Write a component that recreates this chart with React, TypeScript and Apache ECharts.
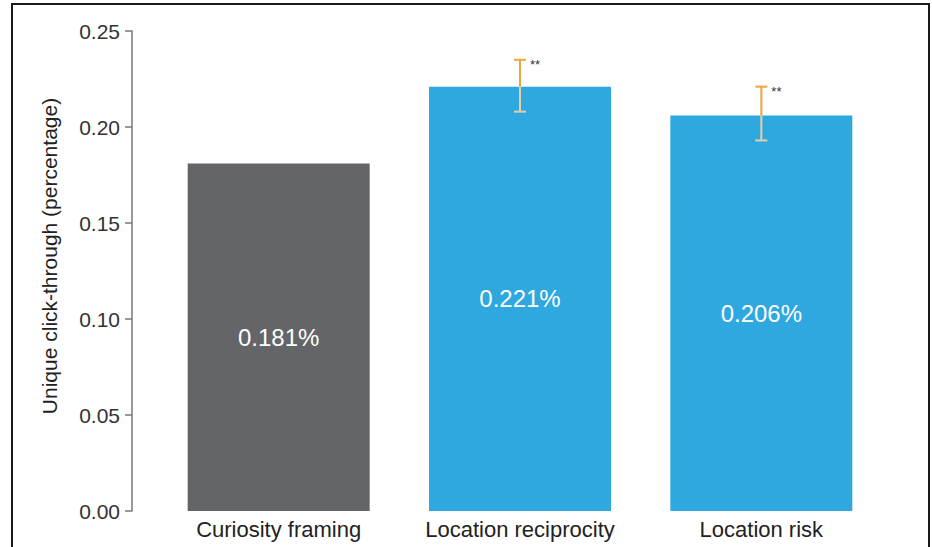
import React, { useEffect, useRef } from "react";
import * as echarts from "echarts";

const categories = ["Curiosity framing", "Location reciprocity", "Location risk"];
const values = [0.181, 0.221, 0.206];
const errLow = [null, 0.208, 0.193];
const errHigh = [null, 0.235, 0.221];
const significance = ["", "**", "**"];
const barColors = ["#646568", "#2EA8DF", "#2EA8DF"];
const yTicks = { min: 0, max: 0.25, interval: 0.05 };

const FONT = "Liberation Sans, Arial, Helvetica, sans-serif";

export default function App() {
  const ref = useRef<HTMLDivElement>(null);

  useEffect(() => {
    if (!ref.current) return;
    const chart = echarts.init(ref.current, null, { renderer: "svg" });

    const errData = categories.map((_, i) => [i, errLow[i], errHigh[i], values[i], significance[i]]);

    chart.setOption({
      animation: false,
      backgroundColor: "#ffffff",
      grid: { left: 158, right: 50, top: 31, bottom: 36, containLabel: false },
      xAxis: {
        type: "category",
        data: categories,
        axisLine: { show: false },
        axisTick: { show: false },
        axisLabel: {
          color: "#222",
          fontSize: 22,
          fontFamily: FONT,
          margin: 7,
          interval: 0,
          hideOverlap: false,
        },
      },
      yAxis: {
        type: "value",
        min: yTicks.min,
        max: yTicks.max,
        interval: yTicks.interval,
        offset: 26,
        name: "Unique click-through (percentage)",
        nameLocation: "middle",
        nameGap: 72,
        nameTextStyle: { color: "#222", fontSize: 21, fontFamily: FONT, padding: [0, 0, 0, 30] },
        axisLine: { show: true, lineStyle: { color: "#777", width: 1.5 } },
        axisTick: { show: true, length: 7, lineStyle: { color: "#777", width: 1.5 } },
        axisLabel: {
          color: "#333",
          fontSize: 21,
          fontFamily: FONT,
          margin: 12,
          formatter: (v: number) => v.toFixed(2),
        },
        splitLine: { show: false },
      },
      series: [
        {
          type: "bar",
          barWidth: 182,
          data: values.map((v, i) => ({ value: v, itemStyle: { color: barColors[i] } })),
          label: {
            show: true,
            position: "inside",
            color: "#ffffff",
            fontSize: 24,
            fontFamily: FONT,
            formatter: (p: any) => p.value.toFixed(3) + "%",
          },
          z: 2,
        },
        {
          type: "custom",
          z: 5,
          data: errData,
          renderItem: (params: any, api: any) => {
            const lo = api.value(1);
            const hi = api.value(2);
            if (lo == null || hi == null || isNaN(lo) || isNaN(hi)) return null;
            const x = api.coord([api.value(0), 0])[0];
            const yLo = api.coord([api.value(0), lo])[1];
            const yHi = api.coord([api.value(0), hi])[1];
            const yBar = api.coord([api.value(0), api.value(3)])[1];
            const half = 6;
            const strong = "#F2A23C";
            const pale = "#E9CFA6";
            const mark = errData[params.dataIndex][4] as string;
            return {
              type: "group",
              children: [
                { type: "line", shape: { x1: x, y1: yHi, x2: x, y2: yBar }, style: { stroke: strong, lineWidth: 2 } },
                { type: "line", shape: { x1: x, y1: yBar, x2: x, y2: yLo }, style: { stroke: pale, lineWidth: 2 } },
                { type: "line", shape: { x1: x - half, y1: yHi, x2: x + half, y2: yHi }, style: { stroke: strong, lineWidth: 2 } },
                { type: "line", shape: { x1: x - half, y1: yLo, x2: x + half, y2: yLo }, style: { stroke: pale, lineWidth: 2 } },
                {
                  type: "text",
                  x: x + 10,
                  y: yHi + 5,
                  style: { text: mark, fill: "#333", fontSize: 13, fontFamily: FONT, textVerticalAlign: "middle" },
                },
              ],
            };
          },
        },
      ],
      graphic: [
        {
          type: "polyline",
          shape: { points: [[12, 547], [12, 4], [929, 4], [929, 547]] },
          style: { stroke: "#1a1a1a", lineWidth: 2, fill: "none" },
          z: 100,
        },
      ],
    });

    return () => chart.dispose();
  }, []);

  return (
    <div
      ref={ref}
      style={{ position: "fixed", left: 0, top: 0, width: 932, height: 547 }}
    />
  );
}
